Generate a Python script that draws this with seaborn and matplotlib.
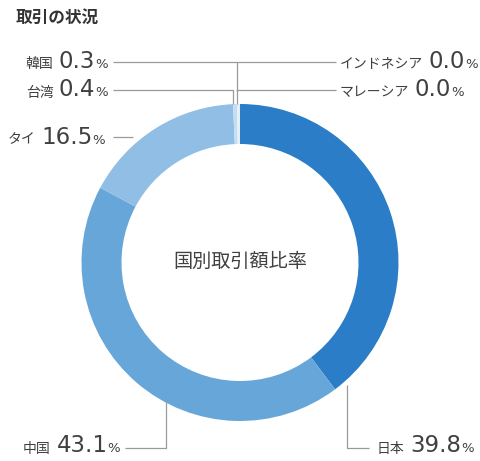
import matplotlib.pyplot as plt
import seaborn as sns
from matplotlib.offsetbox import TextArea, HPacker, AnnotationBbox

# Data (clockwise from 12 o'clock)
countries = ["日本", "中国", "タイ", "台湾", "韓国", "インドネシア", "マレーシア"]
shares = [39.8, 43.1, 16.5, 0.4, 0.3, 0.0, 0.0]
colors = ["#2a7dc6", "#67a6d9", "#90bee4", "#c6ddf1", "#e4eff8", "#eef5fb", "#f3f8fc"]

title = "取引の状況"
center_label = "国別取引額比率"

sns.set_theme(style="white")
plt.rcParams["font.family"] = ["Noto Sans CJK JP", "DejaVu Sans"]

W, H = 480, 461
fig = plt.figure(figsize=(W / 100, H / 100), dpi=100)
ax = fig.add_axes([0, 0, 1, 1])
ax.set_xlim(0, W)
ax.set_ylim(0, H)
ax.set_aspect("equal")
ax.axis("off")

cx, cy, r = 240, H - 262.5, 158.5
ax.pie(shares, colors=colors, startangle=90, counterclock=False,
       center=(cx, cy), radius=r, normalize=True,
       wedgeprops=dict(width=40, edgecolor="none", linewidth=0))
ax.set_xlim(0, W)
ax.set_ylim(0, H)

txt = "#404040"
num_font = ["DejaVu Sans"]
line_kw = dict(color="#9a9a9a", lw=0.9, solid_capstyle="butt")


def Y(py):
    return H - py


def label(x, py, name, value, side):
    num = HPacker(children=[
        TextArea(f"{value:.1f}", textprops=dict(fontsize=16.5, color=txt, family=num_font)),
        TextArea("%", textprops=dict(fontsize=9.5, color=txt, family=num_font)),
    ], align="baseline", pad=0, sep=0)
    box = HPacker(children=[
        TextArea(name, textprops=dict(fontsize=10, color=txt)),
        num,
    ], align="baseline", pad=0, sep=4)
    align = (1, 0.5) if side == "left" else (0, 0.5)
    ab = AnnotationBbox(box, (x, Y(py)), xycoords="data", box_alignment=align,
                        frameon=False, pad=0)
    ax.add_artist(ab)


# leader lines (pixel layout)
ax.plot([113, 237, 237], [Y(62), Y(62), Y(104)], **line_kw)
ax.plot([237, 336], [Y(62), Y(62)], **line_kw)
ax.plot([113, 233, 233], [Y(90), Y(90), Y(104)], **line_kw)
ax.plot([236, 336], [Y(90), Y(90)], **line_kw)
ax.plot([113, 133], [Y(137), Y(137)], **line_kw)
ax.plot([347, 347, 369], [Y(385), Y(448), Y(448)], **line_kw)
ax.plot([166, 166, 125], [Y(400), Y(448), Y(448)], **line_kw)

label(108, 62, countries[4], shares[4], "left")
label(108, 90, countries[3], shares[3], "left")
label(105, 137, countries[2], shares[2], "left")
label(120, 446, countries[1], shares[1], "left")
label(377, 446, countries[0], shares[0], "right")
label(340, 62, countries[5], shares[5], "right")
label(340, 90, countries[6], shares[6], "right")

ax.text(16, Y(18), title, fontsize=12, fontweight="bold", color="#333333",
        ha="left", va="center")
ax.text(cx, Y(261), center_label, fontsize=13.8, color=txt,
        ha="center", va="center")

fig.savefig("out.png", dpi=100)
